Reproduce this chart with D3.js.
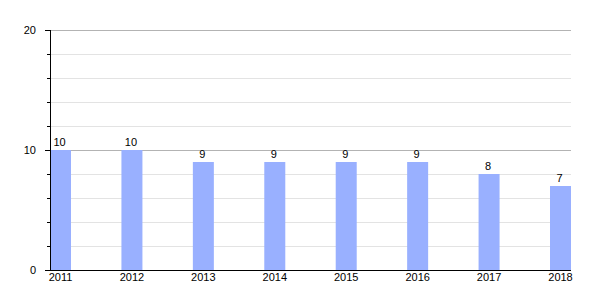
<!DOCTYPE html>
<html>
<head>
<meta charset="utf-8">
<script src="https://cdn.jsdelivr.net/npm/d3@7"></script>
<style>
  body { margin: 0; background: #fff; }
  text { font-family: "Liberation Sans", Arial, sans-serif; font-size: 11px; fill: #000; }
</style>
</head>
<body>
<div id="chart"></div>
<script>
// chart data
var years = ["2011", "2012", "2013", "2014", "2015", "2016", "2017", "2018"];
var values = [10, 10, 9, 9, 9, 9, 8, 7];
var majorTicks = [0, 10, 20];
var minorTicks = [2, 4, 6, 8, 12, 14, 16, 18];

var svgWidth = 600;
var svgHeight = 300;
var margin = { top: 30, right: 29, bottom: 30, left: 50 };
var width = svgWidth - margin.left - margin.right;
var height = svgHeight - margin.top - margin.bottom;

var svg = d3.select("#chart")
  .append("svg")
  .attr("width", svgWidth)
  .attr("height", svgHeight);

var g = svg.append("g")
  .attr("transform", `translate(${margin.left}, ${margin.top})`);

// scales
var xScale = d3.scaleBand()
  .domain(years)
  .range([0, width])
  .paddingInner(0.706)
  .paddingOuter(0);

var yScale = d3.scaleLinear()
  .domain([0, 20])
  .range([height, 0]);

// gridlines
g.selectAll(".minor")
  .data(minorTicks)
  .enter()
  .append("line")
  .attr("x1", 0)
  .attr("x2", width)
  .attr("y1", d => Math.round(yScale(d)) + 0.5)
  .attr("y2", d => Math.round(yScale(d)) + 0.5)
  .attr("stroke", "#e3e3e3");

g.selectAll(".major")
  .data(majorTicks.slice(1))
  .enter()
  .append("line")
  .attr("x1", 0)
  .attr("x2", width)
  .attr("y1", d => Math.round(yScale(d)) + 0.5)
  .attr("y2", d => Math.round(yScale(d)) + 0.5)
  .attr("stroke", "#b3b3b3");

// bars
g.selectAll("rect")
  .data(values)
  .enter()
  .append("rect")
  .attr("x", (d, i) => xScale(years[i]))
  .attr("y", d => yScale(d))
  .attr("width", xScale.bandwidth())
  .attr("height", d => height - yScale(d))
  .attr("fill", "#99b0ff");

// value labels
g.selectAll(".val")
  .data(values)
  .enter()
  .append("text")
  .attr("x", (d, i) => xScale(years[i]) + xScale.bandwidth() / 2 - 1)
  .attr("y", d => yScale(d) - 4)
  .attr("text-anchor", "middle")
  .text(d => d);

// left axis
var leftAxis = d3.axisLeft(yScale)
  .tickValues(majorTicks)
  .tickSize(5)
  .tickPadding(9)
  .tickFormat(d3.format("d"));

var yAxisG = g.append("g").call(leftAxis);
yAxisG.select(".domain").remove();
yAxisG.selectAll("text").style("font-size", "11px").attr("font-family", null);

var minorAxis = d3.axisLeft(yScale)
  .tickValues(minorTicks)
  .tickSize(3)
  .tickFormat("");
var minorG = g.append("g").call(minorAxis);
minorG.select(".domain").remove();

g.append("line")
  .attr("x1", 0.5).attr("x2", 0.5)
  .attr("y1", 0).attr("y2", height)
  .attr("stroke", "#000");

// bottom axis
var bottomAxis = d3.axisBottom(xScale)
  .tickSize(0)
  .tickPadding(3);
var xAxisG = g.append("g")
  .attr("transform", `translate(0, ${height})`)
  .call(bottomAxis);
xAxisG.select(".domain").remove();
xAxisG.selectAll("text").style("font-size", "11px").attr("font-family", null);

g.append("line")
  .attr("x1", 0).attr("x2", width)
  .attr("y1", height + 0.5).attr("y2", height + 0.5)
  .attr("stroke", "#000");
</script>
</body>
</html>
